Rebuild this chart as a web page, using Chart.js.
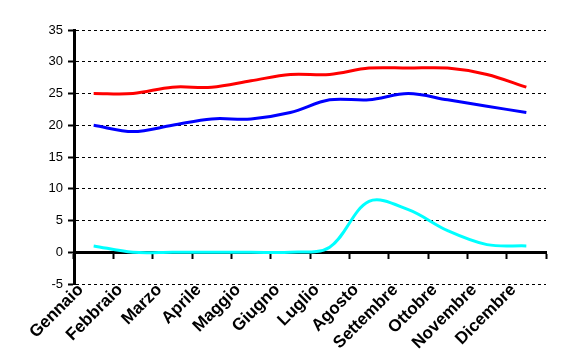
<!DOCTYPE html>
<html>
<head>
<meta charset="utf-8">
<script src="https://cdn.jsdelivr.net/npm/chart.js@4.4.1/dist/chart.umd.min.js"></script>
<style>
  html, body { margin: 0; padding: 0; background: #ffffff; }
  #wrap { width: 563px; height: 362px; }
</style>
</head>
<body>
<div id="wrap"><canvas id="chart1" width="563" height="362"></canvas></div>
<script>
// Monthly values
const months = ['Gennaio', 'Febbraio', 'Marzo', 'Aprile', 'Maggio', 'Giugno', 'Luglio', 'Agosto', 'Settembre', 'Ottobre', 'Novembre', 'Dicembre'];
const redValues = [25, 25, 26, 26, 27, 28, 28, 29, 29, 29, 28, 26];
const blueValues = [20, 19, 20, 21, 21, 22, 24, 24, 25, 24, 23, 22];
const cyanValues = [1, 0, 0, 0, 0, 0, 0.8, 8, 6.7, 3.4, 1.2, 1];
const yMin = -5;
const yMax = 35;
const yStep = 5;

const fontFamily = '"Liberation Sans", Arial, sans-serif';

let ctx1 = document.getElementById('chart1').getContext('2d');
let chart1 = new Chart(ctx1, {
    type: 'line',
    data: {
        labels: months,
        datasets: [
            {
                label: 'Rosso',
                data: redValues,
                borderColor: '#ff0000',
                borderWidth: 3,
                xAxisID: 'x',
                yAxisID: 'y'
            },
            {
                label: 'Blu',
                data: blueValues,
                borderColor: '#0000ff',
                borderWidth: 3,
                xAxisID: 'x',
                yAxisID: 'y'
            },
            {
                label: 'Ciano',
                data: cyanValues,
                borderColor: '#00ffff',
                borderWidth: 3,
                xAxisID: 'x',
                yAxisID: 'y'
            }
        ]
    },
    options: {
        responsive: false,
        animation: false,
        devicePixelRatio: 1,
        layout: {
            padding: { left: 0, right: 17, top: 30, bottom: 0 }
        },
        elements: {
            point: { radius: 0 },
            line: { tension: 0.35, fill: false }
        },
        plugins: {
            legend: { display: false },
            tooltip: { enabled: false }
        },
        scales: {
            x: {
                type: 'category',
                offset: true,
                position: 'bottom',
                grid: { display: false },
                border: { display: false },
                ticks: {
                    autoSkip: false,
                    maxRotation: 45,
                    minRotation: 45,
                    padding: -12,
                    labelOffset: -13,
                    color: '#000000',
                    font: { family: fontFamily, size: 17, weight: 'bold' }
                },
                afterFit: (scale) => { scale.height = 78; }
            },
            // axis line drawn through zero with category tick marks
            x2: {
                type: 'category',
                offset: true,
                position: { y: 0 },
                grid: {
                    offset: true,
                    drawOnChartArea: false,
                    drawTicks: true,
                    tickLength: 5,
                    tickWidth: 2,
                    tickColor: '#000000'
                },
                border: { display: true, color: '#000000', width: 3 },
                ticks: { display: false }
            },
            y: {
                min: yMin,
                max: yMax,
                grid: {
                    color: '#000000',
                    lineWidth: 1,
                    drawTicks: true,
                    tickLength: 6,
                    tickWidth: 2,
                    tickColor: '#000000',
                    tickBorderDash: []
                },
                border: { display: true, color: '#000000', width: 3, dash: [3, 3] },
                ticks: {
                    stepSize: yStep,
                    padding: 5,
                    color: '#000000',
                    font: { family: fontFamily, size: 13 }
                },
                afterFit: (scale) => { scale.width = 74; }
            }
        }
    }
});
</script>
</body>
</html>
